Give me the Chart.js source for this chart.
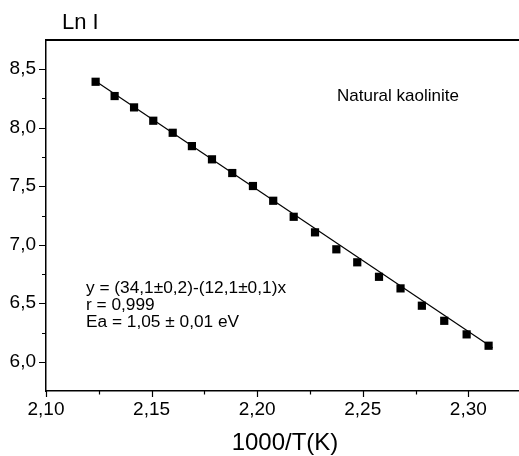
<!DOCTYPE html>
<html><head><meta charset="utf-8">
<script src="https://cdn.jsdelivr.net/npm/chart.js@4"></script>
<style>html,body{margin:0;padding:0;background:#fff;} canvas{display:block;}</style>
</head><body>
<canvas id="c" width="519" height="456"></canvas>
<script>
// ---- data ----
const xValues = [2.1235,2.1325,2.1417,2.1508,2.1600,2.1691,2.1786,2.1882,2.1980,2.2076,2.2173,2.2274,2.2375,2.2474,2.2577,2.2679,2.2780,2.2886,2.2992,2.3096];
const lnI = [8.393,8.271,8.174,8.060,7.957,7.843,7.730,7.613,7.502,7.376,7.239,7.106,6.961,6.850,6.726,6.627,6.479,6.350,6.234,6.137];
const fitX = [2.1225, 2.3115];
const fitY = [8.41, 6.12];
const xMajorTicks = [2.10,2.15,2.20,2.25,2.30];
const xMinorTicks = [2.125,2.175,2.225,2.275];
const yMajorTicks = [6.0,6.5,7.0,7.5,8.0,8.5];
const yMinorTicks = [6.25,6.75,7.25,7.75,8.25];
const xRange = [2.10, 2.324];
const yRange = [5.75, 8.75];
const yTitle = 'Ln I';
const xTitle = '1000/T(K)';
const sampleLabel = 'Natural kaolinite';
const fitText = ['y = (34,1\u00B10,2)-(12,1\u00B10,1)x', 'r = 0,999', 'Ea = 1,05 \u00B1 0,01 eV'];

const FONT = "'Liberation Sans', Arial, Helvetica, sans-serif";
const fmt = v => v.toFixed(v >= 2 && v < 3 ? 2 : 1).replace('.', ',');

const decor = {
  id: 'decor',
  afterDraw(chart) {
    const ctx = chart.ctx, a = chart.chartArea;
    const xs = chart.scales.x, ys = chart.scales.y;
    ctx.save();
    // keep the open right side clean
    ctx.fillStyle = '#fff';
    ctx.fillRect(a.right - 3, a.top + 2, 3, a.bottom - a.top - 3);
    ctx.strokeStyle = '#000';
    // top frame line
    ctx.lineWidth = 2;
    ctx.beginPath(); ctx.moveTo(a.left, a.top); ctx.lineTo(a.right, a.top); ctx.stroke();
    // ticks
    ctx.lineWidth = 1.2;
    ctx.beginPath();
    xMajorTicks.forEach(v => { const p = Math.round(xs.getPixelForValue(v)) + 0.5; ctx.moveTo(p, a.bottom); ctx.lineTo(p, a.bottom + 6); });
    xMinorTicks.forEach(v => { const p = Math.round(xs.getPixelForValue(v)) + 0.5; ctx.moveTo(p, a.bottom); ctx.lineTo(p, a.bottom + 3.5); });
    yMajorTicks.forEach(v => { const p = Math.round(ys.getPixelForValue(v)) + 0.5; ctx.moveTo(a.left, p); ctx.lineTo(a.left - 7, p); });
    yMinorTicks.forEach(v => { const p = Math.round(ys.getPixelForValue(v)) + 0.5; ctx.moveTo(a.left, p); ctx.lineTo(a.left - 4, p); });
    ctx.stroke();
    // texts
    ctx.fillStyle = '#000';
    ctx.textBaseline = 'middle';
    ctx.textAlign = 'left';
    ctx.font = '22px ' + FONT;
    ctx.fillText(yTitle, 62, 23);
    ctx.textAlign = 'center';
    ctx.font = '24px ' + FONT;
    ctx.fillText(xTitle, 285, 443);
    ctx.textAlign = 'left';
    ctx.font = '17px ' + FONT;
    ctx.fillText(sampleLabel, 337, 96);
    ctx.font = '17.3px ' + FONT;
    fitText.forEach((t, i) => ctx.fillText(t, 86, 288 + i * 17));
    ctx.restore();
  }
};

new Chart(document.getElementById('c'), {
  type: 'scatter',
  data: {
    datasets: [
      {
        type: 'line',
        data: fitX.map((x, i) => ({x, y: fitY[i]})),
        borderColor: '#000', borderWidth: 1.2, pointRadius: 0, fill: false, tension: 0, order: 2
      },
      {
        data: xValues.map((x, i) => ({x, y: lnI[i]})),
        pointStyle: 'rect', pointRadius: 5.8, borderWidth: 0,
        backgroundColor: '#000', borderColor: '#000', order: 1
      }
    ]
  },
  options: {
    responsive: false,
    animation: false,
    events: [],
    layout: { autoPadding: false, padding: { top: 40, right: 0, left: 0, bottom: 0 } },
    plugins: { legend: { display: false }, tooltip: { enabled: false } },
    scales: {
      x: {
        type: 'linear', min: xRange[0], max: xRange[1],
        afterBuildTicks: s => { s.ticks = xMajorTicks.map(v => ({value: v})); },
        afterFit: s => { s.height = 65; },
        grid: { display: false, drawTicks: false },
        border: { display: true, color: '#000', width: 1.5 },
        ticks: { padding: 7, color: '#000', font: { family: FONT, size: 19 }, callback: v => fmt(v), maxRotation: 0, autoSkip: false }
      },
      y: {
        type: 'linear', min: yRange[0], max: yRange[1],
        afterBuildTicks: s => { s.ticks = yMajorTicks.map(v => ({value: v})); },
        afterFit: s => { s.width = 46; },
        grid: { display: false, drawTicks: false },
        border: { display: true, color: '#000', width: 1.5 },
        ticks: { padding: 10, color: '#000', font: { family: FONT, size: 19 }, callback: v => fmt(v), autoSkip: false }
      }
    }
  },
  plugins: [decor]
});
</script>
</body></html>
